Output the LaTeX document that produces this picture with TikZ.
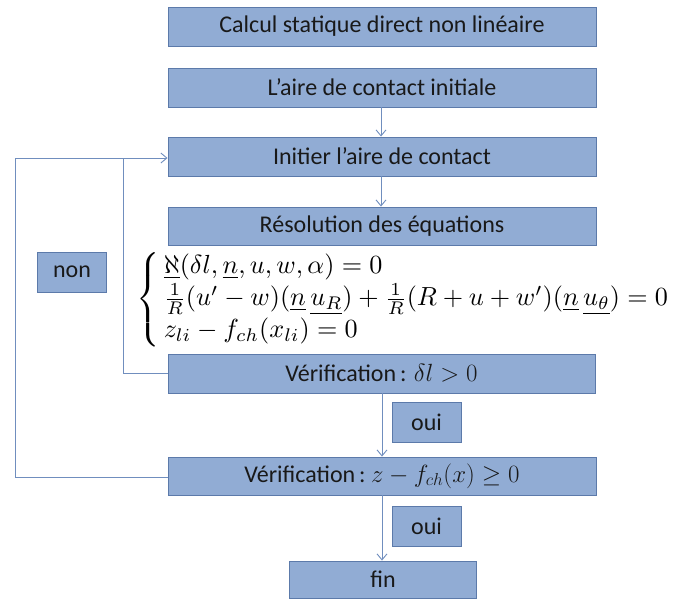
\documentclass[tikz,border=0pt]{standalone}
\usepackage{fontspec}
\setmainfont{Carlito}
\usepackage{amsmath,graphicx}
\usetikzlibrary{arrows.meta}
\definecolor{boxfill}{RGB}{145,172,212}
\definecolor{boxdraw}{RGB}{92,122,170}
\definecolor{linecol}{RGB}{112,142,190}
\definecolor{txt}{RGB}{25,25,25}
\tikzset{
  stepbox/.style={draw=boxdraw, line width=0.9pt, fill=boxfill, inner sep=0pt,
    text=txt, font=\fontsize{24}{28}\selectfont, minimum height=39pt},
  wide/.style={minimum width=428pt},
  flow/.style={draw=linecol, line width=0.9pt, -{Straight Barb[length=6pt,width=10pt]}},
  plain/.style={draw=linecol, line width=0.9pt}
}
\begin{document}
\begin{tikzpicture}[x=1pt,y=-1pt]
\useasboundingbox (0,0) rectangle (682,598);
\node[stepbox,wide] (b1) at (382,26.5) {Calcul statique direct non linéaire};
\node[stepbox,wide] (b2) at (382,87.5) {L’aire de contact initiale};
\node[stepbox,wide] (b3) at (382,156.5) {Initier l’aire de contact};
\node[stepbox,wide,minimum height=38pt] (b4) at (382,226) {Résolution des équations};
\node[stepbox,minimum width=427pt] (b5) at (381.5,373.5) {Vérification\,: $\delta l > 0$};
\node[stepbox,wide,minimum height=38pt] (b6) at (382,476) {Vérification\,:\ $z - f_{ch}(x) \geq 0$};
\node[stepbox,minimum width=69.5pt,minimum height=40pt] (non) at (72,272) {non};
\node[stepbox,minimum width=69pt,minimum height=40pt] (oui1) at (426.5,422) {oui};
\node[stepbox,minimum width=69pt,minimum height=40pt] (oui2) at (426.5,526) {oui};
\node[stepbox,minimum width=186.5pt,minimum height=37pt] (fin) at (383,579.5) {fin};
\node[anchor=west,inner sep=0pt] (eq) at (136,299.5) {\resizebox{535pt}{!}{\renewcommand{\arraystretch}{1.02}$\left\{\,\begin{array}{@{}l@{}}
\underline{\aleph}(\delta l,\underline{n},u,w,\alpha)=0\\
\frac{1}{R}(u'-w)(\underline{n}\,\underline{u_R})+\frac{1}{R}(R+u+w')(\underline{n}\,\underline{u_\theta})=0\\
z_{li}-f_{ch}(x_{li})=0
\end{array}\right.$}};
\coordinate (in3) at (b3.west |- 0,158);
\coordinate (ji) at (123,158);
\draw[flow] (b2.south -| 381,0) -- (b3.north -| 381,0);
\draw[flow] (b3.south -| 381,0) -- (b4.north -| 381,0);
\draw[flow] (b5.south -| 382,0) -- (b6.north -| 382,0);
\draw[flow] (b6.south -| 382,0) -- (fin.north -| 382,0);
\draw[plain] (b5.west |- 0,373) -- (123,373) -- (ji);
\draw[flow] (ji) -- (in3);
\draw[plain] (b6.west |- 0,477) -- (15.7,477) -- (15.7,158) -- (ji);
\end{tikzpicture}
\end{document}
